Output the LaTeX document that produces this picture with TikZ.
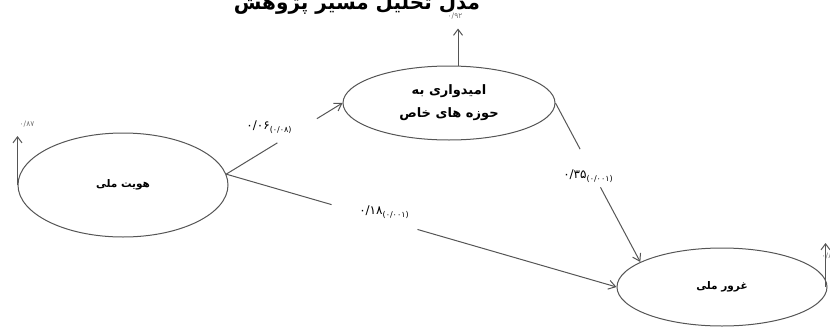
\documentclass[tikz,border=0pt]{standalone}
\usepackage{fontspec}
\TeXXeTstate=1
\newfontfamily\arabicfont[Script=Arabic]{DejaVu Sans}
\newfontfamily\numfont{DejaVu Sans}
\usetikzlibrary{shapes.geometric,arrows.meta,calc,positioning}
\definecolor{path-gray}{HTML}{555555}
\definecolor{err-gray}{HTML}{707070}

% coefficient with its p-value as a subscript
\newcommand{\coef}[2]{{\numfont\fontsize{12}{14}\selectfont #1\raisebox{-3pt}{\fontsize{8}{9}\selectfont(#2)}}}

\begin{document}
\begin{tikzpicture}[x=1pt, y=-1pt,
    latent/.style={ellipse, draw=path-gray, line width=1pt, inner sep=0pt,
        font=\arabicfont\bfseries\fontsize{10.5}{20}\selectfont, align=center},
    effect/.style={draw=path-gray, line width=1pt, -{Straight Barb[length=7pt, width=9pt]}},
    residual/.style={draw=path-gray, line width=1pt, -{Straight Barb[length=6pt, width=9pt]}},
    reslabel/.style={text=err-gray, font=\numfont\fontsize{7.5}{8}\selectfont, inner sep=1pt}]

    \useasboundingbox (0,0) rectangle (830,327);

    % Title (cut by the top of the picture)
    \node[anchor=base, font=\arabicfont\bfseries\fontsize{20}{22}\selectfont, inner sep=0pt]
        (title) at (357,9) {\beginR مدل تحلیل مسیر پژوهش\endR};

    % Latent variables
    \node[latent, minimum width=210pt, minimum height=104pt] (hoviat) at (123,185) {\beginR هویت ملی\endR};
    \node[latent, minimum width=212pt, minimum height=74pt, font=\arabicfont\bfseries\fontsize{13}{23}\selectfont]
        (omid) at (449,103) {\beginR امیدواری به\endR\\ \beginR حوزه های خاص\endR};
    \node[latent, minimum width=210pt, minimum height=78pt] (ghorur) at (722,287) {\beginR غرور ملی\endR};

    % Residuals
    \draw[residual] (hoviat.west) -- ++(0,-49) coordinate (r1);
    \node[reslabel, anchor=south west] (e1) at ([xshift=1pt, yshift=8pt]r1) {۰/۸۷};
    \draw[residual] ([xshift=9pt]omid.north) -- ++(0,-37) coordinate (r2);
    \node[reslabel, anchor=south] (e2) at ([xshift=-3pt, yshift=8pt]r2) {۰/۹۲};
    \draw[residual] ([xshift=-2pt]ghorur.east) -- ++(0,-44) coordinate (r3);
    \node[reslabel, anchor=west] (e3) at ([xshift=-5pt, yshift=-13pt]r3) {۰/۸۶};

    % Gaps in the paths
    \coordinate (a12) at ($(hoviat.6)!0.44!(omid.west)$);
    \coordinate (b12) at ($(hoviat.6)!0.78!(omid.west)$);
    \coordinate (a13) at ($(hoviat.6)!0.27!(ghorur.west)$);
    \coordinate (b13) at ($(hoviat.6)!0.49!(ghorur.west)$);
    \coordinate (a23) at ($(omid.east)!0.29!(ghorur.163)$);
    \coordinate (b23) at ($(omid.east)!0.53!(ghorur.163)$);

    % Paths
    \draw[path-gray, line width=1pt] (hoviat.6) -- (a12);
    \draw[effect] (b12) -- (omid.west);
    \draw[path-gray, line width=1pt] (hoviat.6) -- (a13);
    \draw[effect] (b13) -- (ghorur.west);
    \draw[path-gray, line width=1pt] (omid.east) -- (a23);
    \draw[effect] (b23) -- (ghorur.163);

    % Coefficients
    \node (c12) at (269,127) {\coef{۰/۰۶}{۰/۰۸}};
    \node (c13) at (384,212) {\coef{۰/۱۸}{۰/۰۰۱}};
    \node (c23) at (588,176) {\coef{۰/۳۵}{۰/۰۰۱}};
\end{tikzpicture}
\end{document}
